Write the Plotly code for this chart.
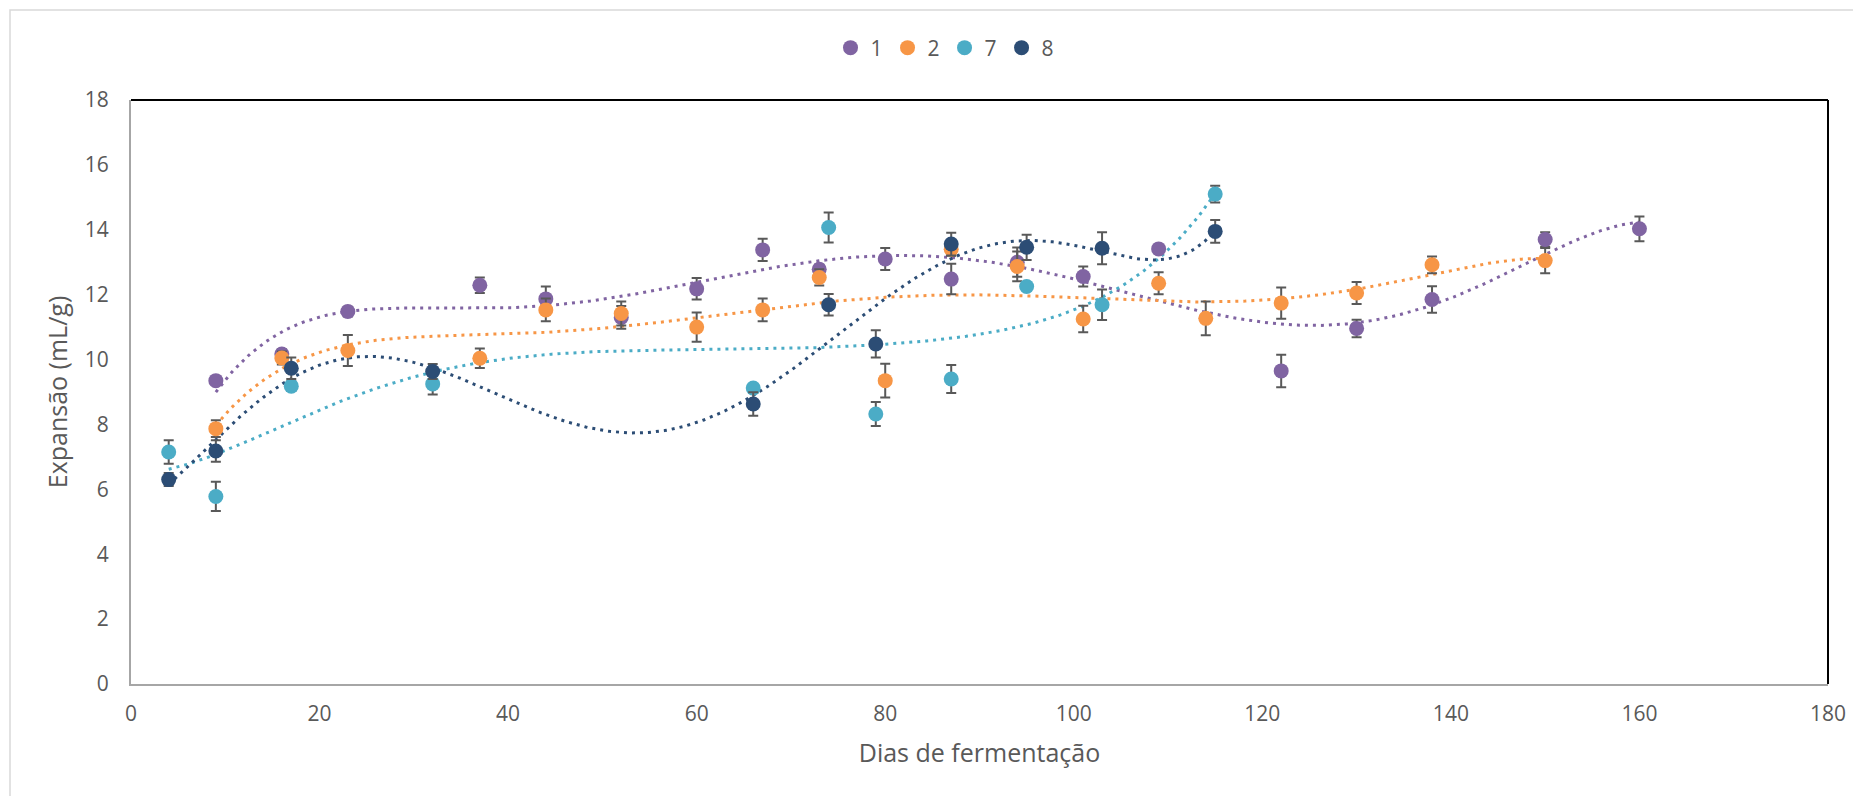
import numpy as np
import plotly.graph_objects as go

# ---- data ----
names = ["1", "2", "7", "8"]

x1 = [9, 16, 23, 37, 44, 52, 60, 67, 73, 80, 87, 94, 101, 109, 122, 130, 138, 150, 160]
y1 = [9.35, 10.17, 11.48, 12.29, 11.87, 11.3, 12.18, 13.38, 12.78, 13.1, 12.48, 13.0, 12.56, 13.41, 9.65, 10.96, 11.85, 13.7, 14.03]
e1 = [0.1, 0.15, 0.15, 0.24, 0.38, 0.35, 0.33, 0.34, 0.15, 0.34, 0.47, 0.45, 0.31, 0.1, 0.5, 0.27, 0.41, 0.22, 0.38]

x2 = [9, 16, 23, 37, 44, 52, 60, 67, 73, 80, 87, 94, 101, 109, 114, 122, 130, 138, 150]
y2 = [7.87, 10.05, 10.28, 10.04, 11.53, 11.42, 11.0, 11.53, 12.53, 9.35, 13.4, 12.87, 11.25, 12.35, 11.27, 11.74, 12.05, 12.92, 13.05]
e2 = [0.26, 0.2, 0.48, 0.3, 0.35, 0.37, 0.45, 0.35, 0.25, 0.52, 0.2, 0.46, 0.41, 0.34, 0.52, 0.48, 0.34, 0.26, 0.39]

x7 = [4, 9, 17, 32, 66, 74, 79, 87, 95, 103, 115]
y7 = [7.15, 5.78, 9.18, 9.25, 9.12, 14.07, 8.32, 9.4, 12.25, 11.69, 15.1]
e7 = [0.36, 0.45, 0.15, 0.33, 0.1, 0.46, 0.37, 0.43, 0.1, 0.47, 0.26]

x8 = [4, 9, 17, 32, 66, 74, 79, 87, 95, 103, 115]
y8 = [6.3, 7.18, 9.73, 9.63, 8.63, 11.69, 10.48, 13.56, 13.46, 13.43, 13.95]
e8 = [0.2, 0.33, 0.33, 0.23, 0.36, 0.33, 0.42, 0.35, 0.39, 0.49, 0.35]

xticks = list(range(0, 181, 20))
yticks = list(range(0, 19, 2))

colors = ["#8064A2", "#F79646", "#4BACC6", "#2C4D75"]
series = [(x1, y1, e1), (x2, y2, e2), (x7, y7, e7), (x8, y8, e8)]

FONT = "Open Sans"
TXT = "#595959"

# page body has an 8px margin; the figure is sized/offset to compensate
W, H = 1853, 788
L, R, T, B = 123, 33, 92, 112
PW, PH = W - L - R, H - T - B

fig = go.Figure()

# polynomial trendlines (order 6, fitted to each series)
for (xs, ys, es), c in zip(series, colors):
    p = np.polynomial.Polynomial.fit(xs, ys, 6)
    xx = np.linspace(min(xs), max(xs), 400)
    fig.add_trace(go.Scatter(x=xx, y=p(xx), mode="lines", showlegend=False,
                             hoverinfo="skip",
                             line=dict(color=c, width=3, dash="3px,5px")))

for (xs, ys, es), c, n in zip(series, colors, names):
    fig.add_trace(go.Scatter(
        x=xs, y=ys, mode="markers", name=n,
        marker=dict(color=c, size=15, line=dict(width=0)),
        error_y=dict(type="data", array=es, visible=True, color="#595959",
                     thickness=2, width=5),
    ))

fig.update_layout(
    width=W, height=H,
    margin=dict(l=L, r=R, t=T, b=B, autoexpand=False),
    paper_bgcolor="white", plot_bgcolor="white",
    font=dict(family=FONT, color=TXT, size=21),
    legend=dict(orientation="h", xref="container", yref="container",
                x=937 / W, xanchor="center", y=1 - 40 / H, yanchor="middle",
                font=dict(size=21, color=TXT), itemwidth=30, tracegroupgap=0),
    xaxis=dict(range=[0, 180], tickvals=xticks, showgrid=False, zeroline=False,
               automargin=False,
               showline=True, linecolor="#A6A6A6", linewidth=2, ticks="",
               tickfont=dict(size=21, color=TXT), ticklabelstandoff=10,
               title=dict(text="Dias de fermentação", font=dict(size=25, color=TXT), standoff=18)),
    yaxis=dict(range=[0, 18], tickvals=yticks, showgrid=False, zeroline=False,
               automargin=False,
               showline=True, linecolor="#A6A6A6", linewidth=2, ticks="",
               tickfont=dict(size=21, color=TXT), ticklabelstandoff=16,
               title=dict(text="Expansão (mL/g)", font=dict(size=25, color=TXT), standoff=10)),
    shapes=[
        # plot-area frame (top/right black)
        dict(type="line", xref="paper", yref="paper", x0=0, x1=1, y0=1, y1=1,
             line=dict(color="black", width=2), layer="above"),
        dict(type="line", xref="paper", yref="paper", x0=1, x1=1, y0=0, y1=1,
             line=dict(color="black", width=2), layer="above"),
        # chart-area border
        dict(type="rect", xref="paper", yref="paper",
             x0=(2 - L) / PW, x1=1.1, y0=-0.3, y1=(PH + T - 2) / PH,
             line=dict(color="#D9D9D9", width=1.5), layer="below"),
    ],
)

fig.write_html("out.html")
